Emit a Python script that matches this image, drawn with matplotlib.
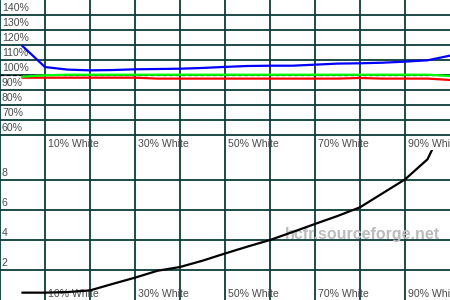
import matplotlib
matplotlib.use('Agg')
import matplotlib.pyplot as plt
import matplotlib.transforms as mtransforms

# Colours
# ____________________________________________________________
C_GRID  = '#0b3d39'
C_TEXT  = '#4a4a4a'
C_BLUE  = '#0000ff'
C_GREEN = '#00ff00'
C_RED   = '#ff0000'
C_WM    = '#bcbcbc'

# Data
# ____________________________________________________________
levels = [5, 10, 15, 20, 25, 30, 35, 40, 45, 50,
          55, 60, 65, 70, 75, 80, 85, 90, 95, 100]

blue_pct  = [119.3, 105.3, 103.6, 103.1, 103.3, 103.8, 104.0, 104.2, 104.7, 105.4,
             106.0, 106.2, 106.2, 106.9, 107.6, 107.8, 108.2, 108.9, 109.8, 112.9]
green_pct = [98.9, 99.8, 100.2, 100.2, 100.2, 100.2, 100.2, 100.2, 100.2, 100.2,
             100.2, 100.2, 100.2, 100.2, 100.2, 100.2, 100.2, 100.2, 100.2, 99.3]
red_pct   = [98.2, 98.2, 98.2, 98.2, 98.2, 98.2, 97.6, 97.6, 97.6, 97.6,
             97.6, 97.6, 97.6, 97.6, 97.6, 98.0, 97.6, 97.6, 97.6, 96.7]

luminance = [0.49, 0.49, 0.53, 0.64, 1.07, 1.49, 1.95, 2.2, 2.62, 3.1,
             3.56, 4.0, 4.53, 5.07, 5.6, 6.18, 7.11, 8.04, 9.38, 12.5]

rgb_ticks = [60, 70, 80, 90, 100, 110, 120, 130, 140]
lum_ticks = [2, 4, 6, 8]
x_grid    = [0, 10, 20, 30, 40, 50, 60, 70, 80, 90]
x_labels  = ['10% White', '30% White', '50% White', '70% White', '90% White']
x_label_pos = [10, 30, 50, 70, 90]

plt.rcParams['font.family'] = ['Liberation Sans', 'DejaVu Sans']

fig = plt.figure(figsize=(4.5, 3.0), dpi=100, facecolor='white')
ax_rgb = fig.add_axes([0, 0.5, 1, 0.5])
ax_lum = fig.add_axes([0, 0.0, 1, 0.5])

for ax in [ax_rgb, ax_lum]:
    ax.set_facecolor('white')
    ax.set_xlim(0, 100)
    ax.set_xticks([])
    ax.set_yticks([])
    for spine in ax.spines.values():
        spine.set_visible(False)
    for xv in x_grid:
        ax.axvline(xv, color=C_GRID, linewidth=1.3, zorder=1)
    # x labels sit in the bottom row of each panel
    for xv, lab in zip(x_label_pos, x_labels):
        tr = mtransforms.offset_copy(ax.get_xaxis_transform(), fig=fig, x=3, y=1, units='dots')
        ax.text(xv, 10 / 150, lab, transform=tr, ha='left', va='top',
                fontsize=7.6, color=C_TEXT, zorder=2)

# Top panel: RGB levels
# ____________________________________________________________
ax_rgb.set_ylim(50, 150)
for yv in rgb_ticks:
    ax_rgb.axhline(yv, color=C_GRID, linewidth=1.3, zorder=1)
    tr = mtransforms.offset_copy(ax_rgb.transData, fig=fig, x=2, y=2, units='dots')
    ax_rgb.text(0, yv, f'{yv}%', transform=tr, ha='left', va='bottom',
                fontsize=7.6, color=C_TEXT, zorder=2)

ax_rgb.axhline(100, color='black', linewidth=0.9, linestyle=(0, (3, 2)), zorder=2)
ax_rgb.plot(levels, red_pct,   color=C_RED,   linewidth=1.6, zorder=3)
ax_rgb.plot(levels, green_pct, color=C_GREEN, linewidth=1.6, zorder=4)
ax_rgb.plot(levels, blue_pct,  color=C_BLUE,  linewidth=1.6, zorder=5)

# Bottom panel: luminance
# ____________________________________________________________
ax_lum.set_ylim(0, 10)
for yv in lum_ticks:
    ax_lum.axhline(yv, color=C_GRID, linewidth=1.3, zorder=1)
    tr = mtransforms.offset_copy(ax_lum.transData, fig=fig, x=2, y=2, units='dots')
    ax_lum.text(0, yv, f'{yv}', transform=tr, ha='left', va='bottom',
                fontsize=7.6, color=C_TEXT, zorder=2)

ax_lum.text(80.5, 4.4, 'hcfr.sourceforge.net', ha='center', va='center',
            fontsize=11.5, fontweight='bold', color=C_WM, zorder=2)
ax_lum.plot(levels, luminance, color='black', linewidth=1.6, zorder=3)

fig.savefig('out.png', dpi=100, facecolor='white')
